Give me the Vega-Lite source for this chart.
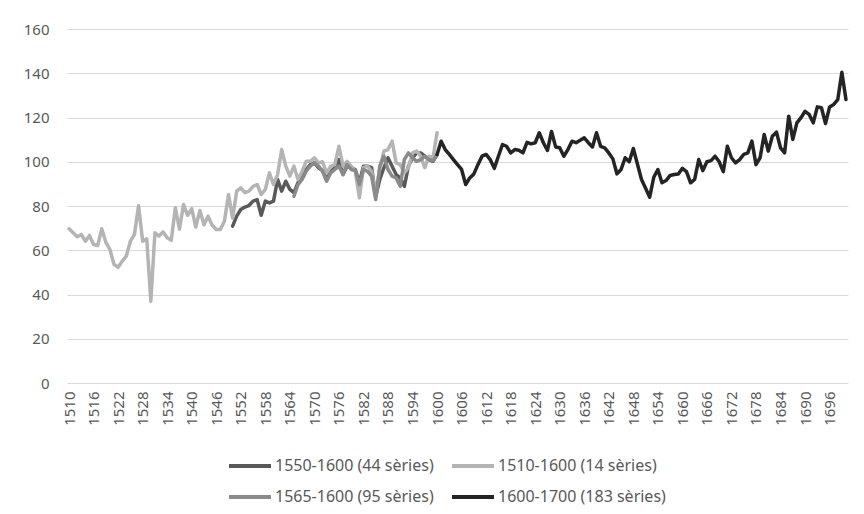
{
  "$schema": "https://vega.github.io/schema/vega-lite/v6.json",
  "width": 781,
  "height": 354,
  "autosize": "none",
  "padding": {"left": 67, "top": 29, "right": 16, "bottom": 131},
  "background": "white",
  "config": {
    "view": {"stroke": null},
    "font": "Noto Sans",
    "axis": {"labelFont": "Noto Sans", "labelFontSize": 15, "labelColor": "#595959", "ticks": false, "domain": false, "title": null},
    "legend": {"labelFont": "Noto Sans", "labelFontSize": 16, "labelColor": "#595959", "labelLimit": 300}
  },
  "data": {"values": [
    {"s":"1550-1600 (44 sèries)","year":1550,"v":70.9},{"s":"1550-1600 (44 sèries)","year":1551,"v":75.4},{"s":"1550-1600 (44 sèries)","year":1552,"v":78.4},{"s":"1550-1600 (44 sèries)","year":1553,"v":79.5},{"s":"1550-1600 (44 sèries)","year":1554,"v":80.2},{"s":"1550-1600 (44 sèries)","year":1555,"v":82.2},{"s":"1550-1600 (44 sèries)","year":1556,"v":82.9},{"s":"1550-1600 (44 sèries)","year":1557,"v":75.8},{"s":"1550-1600 (44 sèries)","year":1558,"v":82.2},{"s":"1550-1600 (44 sèries)","year":1559,"v":81.4},{"s":"1550-1600 (44 sèries)","year":1560,"v":82.2},{"s":"1550-1600 (44 sèries)","year":1561,"v":92},{"s":"1550-1600 (44 sèries)","year":1562,"v":86.7},{"s":"1550-1600 (44 sèries)","year":1563,"v":91.2},{"s":"1550-1600 (44 sèries)","year":1564,"v":87.5},{"s":"1550-1600 (44 sèries)","year":1565,"v":86},{"s":"1550-1600 (44 sèries)","year":1566,"v":90.5},{"s":"1550-1600 (44 sèries)","year":1567,"v":94.2},{"s":"1550-1600 (44 sèries)","year":1568,"v":96.5},{"s":"1550-1600 (44 sèries)","year":1569,"v":98.7},{"s":"1550-1600 (44 sèries)","year":1570,"v":99.5},{"s":"1550-1600 (44 sèries)","year":1571,"v":97.3},{"s":"1550-1600 (44 sèries)","year":1572,"v":96},{"s":"1550-1600 (44 sèries)","year":1573,"v":92},{"s":"1550-1600 (44 sèries)","year":1574,"v":95.7},{"s":"1550-1600 (44 sèries)","year":1575,"v":97.3},{"s":"1550-1600 (44 sèries)","year":1576,"v":101},{"s":"1550-1600 (44 sèries)","year":1577,"v":94.2},{"s":"1550-1600 (44 sèries)","year":1578,"v":98},{"s":"1550-1600 (44 sèries)","year":1579,"v":97.3},{"s":"1550-1600 (44 sèries)","year":1580,"v":96.5},{"s":"1550-1600 (44 sèries)","year":1581,"v":90.5},{"s":"1550-1600 (44 sèries)","year":1582,"v":98},{"s":"1550-1600 (44 sèries)","year":1583,"v":98},{"s":"1550-1600 (44 sèries)","year":1584,"v":97.3},{"s":"1550-1600 (44 sèries)","year":1585,"v":84.4},{"s":"1550-1600 (44 sèries)","year":1586,"v":92},{"s":"1550-1600 (44 sèries)","year":1587,"v":97.3},{"s":"1550-1600 (44 sèries)","year":1588,"v":101.8},{"s":"1550-1600 (44 sèries)","year":1589,"v":98},{"s":"1550-1600 (44 sèries)","year":1590,"v":94.2},{"s":"1550-1600 (44 sèries)","year":1591,"v":92.7},{"s":"1550-1600 (44 sèries)","year":1592,"v":88.9},{"s":"1550-1600 (44 sèries)","year":1593,"v":98},{"s":"1550-1600 (44 sèries)","year":1594,"v":101.8},{"s":"1550-1600 (44 sèries)","year":1595,"v":104},{"s":"1550-1600 (44 sèries)","year":1596,"v":104},{"s":"1550-1600 (44 sèries)","year":1597,"v":102.5},{"s":"1550-1600 (44 sèries)","year":1598,"v":101},{"s":"1550-1600 (44 sèries)","year":1599,"v":100.2},{"s":"1550-1600 (44 sèries)","year":1600,"v":103.3},

    {"s":"1510-1600 (14 sèries)","year":1510,"v":69.7},{"s":"1510-1600 (14 sèries)","year":1511,"v":67.9},{"s":"1510-1600 (14 sèries)","year":1512,"v":66.1},{"s":"1510-1600 (14 sèries)","year":1513,"v":67.1},{"s":"1510-1600 (14 sèries)","year":1514,"v":64.1},{"s":"1510-1600 (14 sèries)","year":1515,"v":66.7},{"s":"1510-1600 (14 sèries)","year":1516,"v":62.6},{"s":"1510-1600 (14 sèries)","year":1517,"v":62.1},{"s":"1510-1600 (14 sèries)","year":1518,"v":69.7},{"s":"1510-1600 (14 sèries)","year":1519,"v":63.6},{"s":"1510-1600 (14 sèries)","year":1520,"v":60.3},{"s":"1510-1600 (14 sèries)","year":1521,"v":53.6},{"s":"1510-1600 (14 sèries)","year":1522,"v":52.3},{"s":"1510-1600 (14 sèries)","year":1523,"v":55.1},{"s":"1510-1600 (14 sèries)","year":1524,"v":57.3},{"s":"1510-1600 (14 sèries)","year":1525,"v":64.1},{"s":"1510-1600 (14 sèries)","year":1526,"v":67.1},{"s":"1510-1600 (14 sèries)","year":1527,"v":80.2},{"s":"1510-1600 (14 sèries)","year":1528,"v":64.1},{"s":"1510-1600 (14 sèries)","year":1529,"v":65.2},{"s":"1510-1600 (14 sèries)","year":1530,"v":37},{"s":"1510-1600 (14 sèries)","year":1531,"v":67.9},{"s":"1510-1600 (14 sèries)","year":1532,"v":66.4},{"s":"1510-1600 (14 sèries)","year":1533,"v":68.3},{"s":"1510-1600 (14 sèries)","year":1534,"v":65.6},{"s":"1510-1600 (14 sèries)","year":1535,"v":64.5},{"s":"1510-1600 (14 sèries)","year":1536,"v":79.2},{"s":"1510-1600 (14 sèries)","year":1537,"v":69.5},{"s":"1510-1600 (14 sèries)","year":1538,"v":80.7},{"s":"1510-1600 (14 sèries)","year":1539,"v":75.8},{"s":"1510-1600 (14 sèries)","year":1540,"v":78.8},{"s":"1510-1600 (14 sèries)","year":1541,"v":70.5},{"s":"1510-1600 (14 sèries)","year":1542,"v":78},{"s":"1510-1600 (14 sèries)","year":1543,"v":71.5},{"s":"1510-1600 (14 sèries)","year":1544,"v":75.4},{"s":"1510-1600 (14 sèries)","year":1545,"v":71.3},{"s":"1510-1600 (14 sèries)","year":1546,"v":69.4},{"s":"1510-1600 (14 sèries)","year":1547,"v":69.4},{"s":"1510-1600 (14 sèries)","year":1548,"v":73.1},{"s":"1510-1600 (14 sèries)","year":1549,"v":85.2},{"s":"1510-1600 (14 sèries)","year":1550,"v":74.5},{"s":"1510-1600 (14 sèries)","year":1551,"v":86.7},{"s":"1510-1600 (14 sèries)","year":1552,"v":88.2},{"s":"1510-1600 (14 sèries)","year":1553,"v":86},{"s":"1510-1600 (14 sèries)","year":1554,"v":86.7},{"s":"1510-1600 (14 sèries)","year":1555,"v":88.9},{"s":"1510-1600 (14 sèries)","year":1556,"v":89.7},{"s":"1510-1600 (14 sèries)","year":1557,"v":85.2},{"s":"1510-1600 (14 sèries)","year":1558,"v":87.5},{"s":"1510-1600 (14 sèries)","year":1559,"v":95},{"s":"1510-1600 (14 sèries)","year":1560,"v":89.7},{"s":"1510-1600 (14 sèries)","year":1561,"v":94.2},{"s":"1510-1600 (14 sèries)","year":1562,"v":105.5},{"s":"1510-1600 (14 sèries)","year":1563,"v":98},{"s":"1510-1600 (14 sèries)","year":1564,"v":93.5},{"s":"1510-1600 (14 sèries)","year":1565,"v":98},{"s":"1510-1600 (14 sèries)","year":1566,"v":92},{"s":"1510-1600 (14 sèries)","year":1567,"v":95.7},{"s":"1510-1600 (14 sèries)","year":1568,"v":100.2},{"s":"1510-1600 (14 sèries)","year":1569,"v":100.2},{"s":"1510-1600 (14 sèries)","year":1570,"v":101.8},{"s":"1510-1600 (14 sèries)","year":1571,"v":99.5},{"s":"1510-1600 (14 sèries)","year":1572,"v":100},{"s":"1510-1600 (14 sèries)","year":1573,"v":95},{"s":"1510-1600 (14 sèries)","year":1574,"v":98},{"s":"1510-1600 (14 sèries)","year":1575,"v":98.7},{"s":"1510-1600 (14 sèries)","year":1576,"v":107},{"s":"1510-1600 (14 sèries)","year":1577,"v":98},{"s":"1510-1600 (14 sèries)","year":1578,"v":100.2},{"s":"1510-1600 (14 sèries)","year":1579,"v":98},{"s":"1510-1600 (14 sèries)","year":1580,"v":95.7},{"s":"1510-1600 (14 sèries)","year":1581,"v":83.7},{"s":"1510-1600 (14 sèries)","year":1582,"v":97.3},{"s":"1510-1600 (14 sèries)","year":1583,"v":98},{"s":"1510-1600 (14 sèries)","year":1584,"v":95.7},{"s":"1510-1600 (14 sèries)","year":1585,"v":85.2},{"s":"1510-1600 (14 sèries)","year":1586,"v":97.3},{"s":"1510-1600 (14 sèries)","year":1587,"v":104.8},{"s":"1510-1600 (14 sèries)","year":1588,"v":105.5},{"s":"1510-1600 (14 sèries)","year":1589,"v":109.3},{"s":"1510-1600 (14 sèries)","year":1590,"v":99.5},{"s":"1510-1600 (14 sèries)","year":1591,"v":98.7},{"s":"1510-1600 (14 sèries)","year":1592,"v":95},{"s":"1510-1600 (14 sèries)","year":1593,"v":97.3},{"s":"1510-1600 (14 sèries)","year":1594,"v":104},{"s":"1510-1600 (14 sèries)","year":1595,"v":104.8},{"s":"1510-1600 (14 sèries)","year":1596,"v":102.5},{"s":"1510-1600 (14 sèries)","year":1597,"v":97.3},{"s":"1510-1600 (14 sèries)","year":1598,"v":102.5},{"s":"1510-1600 (14 sèries)","year":1599,"v":101.8},{"s":"1510-1600 (14 sèries)","year":1600,"v":113.1},

    {"s":"1565-1600 (95 sèries)","year":1565,"v":84.4},{"s":"1565-1600 (95 sèries)","year":1566,"v":89.7},{"s":"1565-1600 (95 sèries)","year":1567,"v":92},{"s":"1565-1600 (95 sèries)","year":1568,"v":95.7},{"s":"1565-1600 (95 sèries)","year":1569,"v":98},{"s":"1565-1600 (95 sèries)","year":1570,"v":99.5},{"s":"1565-1600 (95 sèries)","year":1571,"v":98},{"s":"1565-1600 (95 sèries)","year":1572,"v":95.7},{"s":"1565-1600 (95 sèries)","year":1573,"v":91.2},{"s":"1565-1600 (95 sèries)","year":1574,"v":95},{"s":"1565-1600 (95 sèries)","year":1575,"v":96.5},{"s":"1565-1600 (95 sèries)","year":1576,"v":98},{"s":"1565-1600 (95 sèries)","year":1577,"v":94.2},{"s":"1565-1600 (95 sèries)","year":1578,"v":98.7},{"s":"1565-1600 (95 sèries)","year":1579,"v":96.5},{"s":"1565-1600 (95 sèries)","year":1580,"v":96},{"s":"1565-1600 (95 sèries)","year":1581,"v":89.7},{"s":"1565-1600 (95 sèries)","year":1582,"v":96.5},{"s":"1565-1600 (95 sèries)","year":1583,"v":95.7},{"s":"1565-1600 (95 sèries)","year":1584,"v":93.5},{"s":"1565-1600 (95 sèries)","year":1585,"v":82.9},{"s":"1565-1600 (95 sèries)","year":1586,"v":98},{"s":"1565-1600 (95 sèries)","year":1587,"v":102.5},{"s":"1565-1600 (95 sèries)","year":1588,"v":96.5},{"s":"1565-1600 (95 sèries)","year":1589,"v":93.5},{"s":"1565-1600 (95 sèries)","year":1590,"v":92.7},{"s":"1565-1600 (95 sèries)","year":1591,"v":88.9},{"s":"1565-1600 (95 sèries)","year":1592,"v":101},{"s":"1565-1600 (95 sèries)","year":1593,"v":104},{"s":"1565-1600 (95 sèries)","year":1594,"v":101.8},{"s":"1565-1600 (95 sèries)","year":1595,"v":100.2},{"s":"1565-1600 (95 sèries)","year":1596,"v":101},{"s":"1565-1600 (95 sèries)","year":1597,"v":102.5},{"s":"1565-1600 (95 sèries)","year":1598,"v":101},{"s":"1565-1600 (95 sèries)","year":1599,"v":100.5},{"s":"1565-1600 (95 sèries)","year":1600,"v":103},

    {"s":"1600-1700 (183 sèries)","year":1600,"v":103.3},{"s":"1600-1700 (183 sèries)","year":1601,"v":109.3},{"s":"1600-1700 (183 sèries)","year":1602,"v":105.5},{"s":"1600-1700 (183 sèries)","year":1603,"v":103.3},{"s":"1600-1700 (183 sèries)","year":1604,"v":101},{"s":"1600-1700 (183 sèries)","year":1605,"v":98.7},{"s":"1600-1700 (183 sèries)","year":1606,"v":96.5},{"s":"1600-1700 (183 sèries)","year":1607,"v":89.7},{"s":"1600-1700 (183 sèries)","year":1608,"v":92.7},{"s":"1600-1700 (183 sèries)","year":1609,"v":94.5},{"s":"1600-1700 (183 sèries)","year":1610,"v":98.7},{"s":"1600-1700 (183 sèries)","year":1611,"v":102.5},{"s":"1600-1700 (183 sèries)","year":1612,"v":103.3},{"s":"1600-1700 (183 sèries)","year":1613,"v":101},{"s":"1600-1700 (183 sèries)","year":1614,"v":97},{"s":"1600-1700 (183 sèries)","year":1615,"v":102.5},{"s":"1600-1700 (183 sèries)","year":1616,"v":107.8},{"s":"1600-1700 (183 sèries)","year":1617,"v":107},{"s":"1600-1700 (183 sèries)","year":1618,"v":104},{"s":"1600-1700 (183 sèries)","year":1619,"v":105.5},{"s":"1600-1700 (183 sèries)","year":1620,"v":105.2},{"s":"1600-1700 (183 sèries)","year":1621,"v":104},{"s":"1600-1700 (183 sèries)","year":1622,"v":108.8},{"s":"1600-1700 (183 sèries)","year":1623,"v":108.1},{"s":"1600-1700 (183 sèries)","year":1624,"v":108.6},{"s":"1600-1700 (183 sèries)","year":1625,"v":113.1},{"s":"1600-1700 (183 sèries)","year":1626,"v":108.6},{"s":"1600-1700 (183 sèries)","year":1627,"v":105.1},{"s":"1600-1700 (183 sèries)","year":1628,"v":113.7},{"s":"1600-1700 (183 sèries)","year":1629,"v":106.7},{"s":"1600-1700 (183 sèries)","year":1630,"v":106.3},{"s":"1600-1700 (183 sèries)","year":1631,"v":102.5},{"s":"1600-1700 (183 sèries)","year":1632,"v":105.5},{"s":"1600-1700 (183 sèries)","year":1633,"v":109.3},{"s":"1600-1700 (183 sèries)","year":1634,"v":108.6},{"s":"1600-1700 (183 sèries)","year":1635,"v":109.7},{"s":"1600-1700 (183 sèries)","year":1636,"v":110.8},{"s":"1600-1700 (183 sèries)","year":1637,"v":108.6},{"s":"1600-1700 (183 sèries)","year":1638,"v":106.7},{"s":"1600-1700 (183 sèries)","year":1639,"v":113.1},{"s":"1600-1700 (183 sèries)","year":1640,"v":107},{"s":"1600-1700 (183 sèries)","year":1641,"v":106.3},{"s":"1600-1700 (183 sèries)","year":1642,"v":104},{"s":"1600-1700 (183 sèries)","year":1643,"v":101.3},{"s":"1600-1700 (183 sèries)","year":1644,"v":94.5},{"s":"1600-1700 (183 sèries)","year":1645,"v":96.5},{"s":"1600-1700 (183 sèries)","year":1646,"v":101.8},{"s":"1600-1700 (183 sèries)","year":1647,"v":100},{"s":"1600-1700 (183 sèries)","year":1648,"v":106},{"s":"1600-1700 (183 sèries)","year":1649,"v":99},{"s":"1600-1700 (183 sèries)","year":1650,"v":92},{"s":"1600-1700 (183 sèries)","year":1651,"v":88},{"s":"1600-1700 (183 sèries)","year":1652,"v":84},{"s":"1600-1700 (183 sèries)","year":1653,"v":93},{"s":"1600-1700 (183 sèries)","year":1654,"v":96.5},{"s":"1600-1700 (183 sèries)","year":1655,"v":90.5},{"s":"1600-1700 (183 sèries)","year":1656,"v":91.5},{"s":"1600-1700 (183 sèries)","year":1657,"v":93.8},{"s":"1600-1700 (183 sèries)","year":1658,"v":94.2},{"s":"1600-1700 (183 sèries)","year":1659,"v":94.5},{"s":"1600-1700 (183 sèries)","year":1660,"v":97},{"s":"1600-1700 (183 sèries)","year":1661,"v":95.5},{"s":"1600-1700 (183 sèries)","year":1662,"v":90.5},{"s":"1600-1700 (183 sèries)","year":1663,"v":92},{"s":"1600-1700 (183 sèries)","year":1664,"v":101},{"s":"1600-1700 (183 sèries)","year":1665,"v":96},{"s":"1600-1700 (183 sèries)","year":1666,"v":100},{"s":"1600-1700 (183 sèries)","year":1667,"v":100.5},{"s":"1600-1700 (183 sèries)","year":1668,"v":102.5},{"s":"1600-1700 (183 sèries)","year":1669,"v":100},{"s":"1600-1700 (183 sèries)","year":1670,"v":95.5},{"s":"1600-1700 (183 sèries)","year":1671,"v":107},{"s":"1600-1700 (183 sèries)","year":1672,"v":101.8},{"s":"1600-1700 (183 sèries)","year":1673,"v":99.5},{"s":"1600-1700 (183 sèries)","year":1674,"v":101},{"s":"1600-1700 (183 sèries)","year":1675,"v":103.3},{"s":"1600-1700 (183 sèries)","year":1676,"v":104},{"s":"1600-1700 (183 sèries)","year":1677,"v":109.3},{"s":"1600-1700 (183 sèries)","year":1678,"v":98.7},{"s":"1600-1700 (183 sèries)","year":1679,"v":101.8},{"s":"1600-1700 (183 sèries)","year":1680,"v":112.3},{"s":"1600-1700 (183 sèries)","year":1681,"v":104.8},{"s":"1600-1700 (183 sèries)","year":1682,"v":111.5},{"s":"1600-1700 (183 sèries)","year":1683,"v":113.4},{"s":"1600-1700 (183 sèries)","year":1684,"v":106.3},{"s":"1600-1700 (183 sèries)","year":1685,"v":104},{"s":"1600-1700 (183 sèries)","year":1686,"v":120.6},{"s":"1600-1700 (183 sèries)","year":1687,"v":110.1},{"s":"1600-1700 (183 sèries)","year":1688,"v":117.6},{"s":"1600-1700 (183 sèries)","year":1689,"v":119.9},{"s":"1600-1700 (183 sèries)","year":1690,"v":122.8},{"s":"1600-1700 (183 sèries)","year":1691,"v":121.4},{"s":"1600-1700 (183 sèries)","year":1692,"v":117.6},{"s":"1600-1700 (183 sèries)","year":1693,"v":124.8},{"s":"1600-1700 (183 sèries)","year":1694,"v":124.4},{"s":"1600-1700 (183 sèries)","year":1695,"v":117.3},{"s":"1600-1700 (183 sèries)","year":1696,"v":124.8},{"s":"1600-1700 (183 sèries)","year":1697,"v":125.9},{"s":"1600-1700 (183 sèries)","year":1698,"v":128.1},{"s":"1600-1700 (183 sèries)","year":1699,"v":140.5},{"s":"1600-1700 (183 sèries)","year":1700,"v":128.1}
  ]},
  "encoding": {
    "x": {"field": "year", "type": "quantitative",
      "scale": {"domain": [1509.5, 1700.5], "nice": false, "zero": false},
      "axis": {"values": [1510,1516,1522,1528,1534,1540,1546,1552,1558,1564,1570,1576,1582,1588,1594,1600,1606,1612,1618,1624,1630,1636,1642,1648,1654,1660,1666,1672,1678,1684,1690,1696],
        "format": "d", "labelAngle": 270, "labelAlign": "right", "labelBaseline": "middle", "labelPadding": 8, "grid": false, "labelOverlap": false}},
    "y": {"field": "v", "type": "quantitative",
      "scale": {"domain": [0, 160], "nice": false},
      "axis": {"values": [0,20,40,60,80,100,120,140,160], "grid": true, "gridColor": "#d9d9d9", "gridWidth": 1, "labelPadding": 18}},
    "color": {"field": "s", "type": "nominal",
      "scale": {"domain": ["1550-1600 (44 sèries)", "1510-1600 (14 sèries)", "1565-1600 (95 sèries)", "1600-1700 (183 sèries)"],
                "range": ["#595959", "#b4b4b4", "#8a8a8a", "#242424"]},
      "legend": {"title": null, "orient": "none", "legendX": 160, "legendY": 414, "columns": 2, "direction": "horizontal",
        "symbolType": "stroke", "symbolSize": 1764, "symbolStrokeWidth": 4, "labelOffset": 2, "labelLimit": 300, "columnPadding": 10, "rowPadding": -2}}
  },
  "layer": [
    {"transform": [{"filter": "datum.s === '1550-1600 (44 sèries)'"}], "mark": {"type": "line", "strokeWidth": 3.5, "strokeJoin": "round", "strokeCap": "round"}},
    {"transform": [{"filter": "datum.s === '1510-1600 (14 sèries)'"}], "mark": {"type": "line", "strokeWidth": 3.5, "strokeJoin": "round", "strokeCap": "round"}},
    {"transform": [{"filter": "datum.s === '1565-1600 (95 sèries)'"}], "mark": {"type": "line", "strokeWidth": 3.5, "strokeJoin": "round", "strokeCap": "round"}},
    {"transform": [{"filter": "datum.s === '1600-1700 (183 sèries)'"}], "mark": {"type": "line", "strokeWidth": 3.5, "strokeJoin": "round", "strokeCap": "round"}}
  ]
}
